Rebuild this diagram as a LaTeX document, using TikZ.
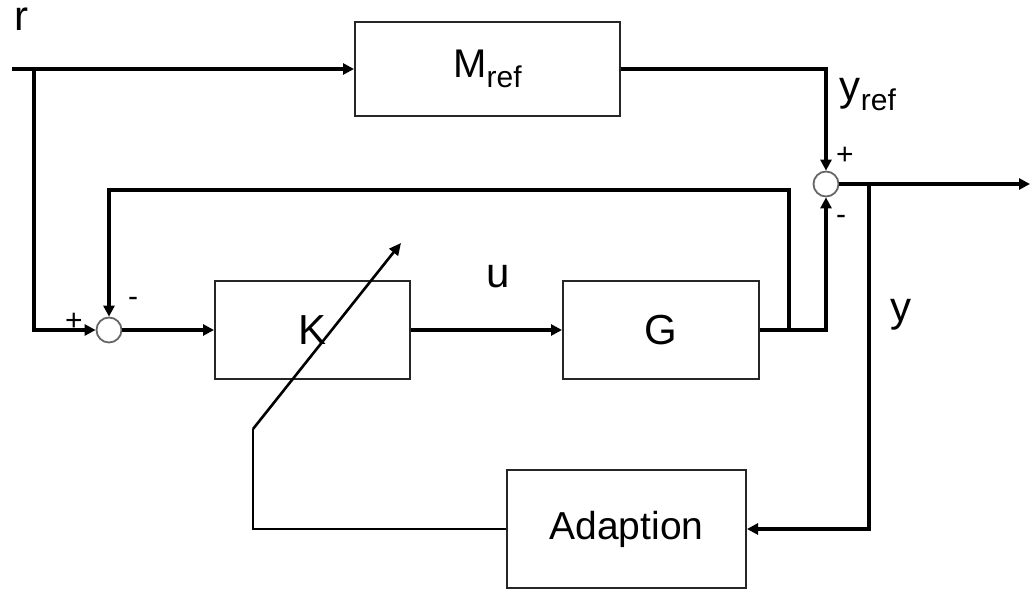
\documentclass[tikz,border=0pt]{standalone}
\usepackage{fontspec}
\setmainfont{Liberation Sans}
\usetikzlibrary{arrows.meta,positioning,calc}
\tikzset{
  block/.style={rectangle, draw=black!85, line width=1pt, fill=white,
                inner sep=0pt, font=\fontsize{21}{25}\selectfont},
  sumpt/.style={circle, draw=black!60, line width=0.9pt, fill=white,
                minimum size=12.5pt, inner sep=0pt},
  lbl/.style={font=\fontsize{21}{25}\selectfont, inner sep=0pt},
  sgn/.style={font=\fontsize{15}{17}\selectfont, inner sep=0pt},
  wire/.style={line width=2pt},
  sig/.style={wire, -{Triangle[length=5.5pt,width=5.5pt]}},
  tune/.style={line width=0.8pt},
  tunear/.style={line width=1.3pt, -{Triangle[length=6pt,width=5.5pt]}},
}
\newcommand{\rsub}{\raisebox{-0.45ex}{\fontsize{15}{15}\selectfont ref}}

\begin{document}
\begin{tikzpicture}[x=0.5pt,y=0.5pt]
\useasboundingbox (0,0) rectangle (1030,-589);

% ---------- blocks ----------
\node[block, minimum width=132.5pt, minimum height=47pt,
      font=\fontsize{20}{24}\selectfont] (mref) at (487.5,-69) {M\rsub};
\node[block, minimum width=97.5pt, minimum height=49pt] (k) at (312.5,-330) {K};
\node[block, minimum width=98pt, minimum height=49pt] (g) at (661,-330) {G};
\node[block, minimum width=119.5pt, minimum height=59pt,
      font=\fontsize{19.5}{23}\selectfont] (adapt) at (626.5,-529) {Adaption};

% ---------- summing points ----------
\node[sumpt] (s1) at (109,-330) {};
\node[sumpt] (s2) at (826,-184) {};

% ---------- branch points ----------
\coordinate (rin) at (12,-69);
\coordinate (rbr) at (34,-69);
\coordinate (gbr) at (789,-330);
\coordinate (fbk) at (789,-190);
\coordinate (ybr) at (869,-184);
\coordinate (yout) at (1030,-184);
\coordinate (tbot) at (253,-429);
\coordinate (ttip) at (401,-243);

% ---------- signal paths ----------
\draw[sig] (rin) -- (mref.west);
\draw[sig] (rbr) |- (s1.west);
\draw[sig] (mref.east) -| (s2.north);
\draw[sig] (s2.east) -- (yout);
\draw[sig] (s1.east) -- (k.west);
\draw[sig] (k.east) -- (g.west);
\draw[sig] (g.east) -| (s2.south);
\draw[sig,line width=1.6pt] (gbr) -- (fbk) -| (s1.north);
\draw[sig,line width=1.6pt] (ybr) |- (adapt.east);

% ---------- adaption ----------
\draw[tune] (adapt.west) -| (tbot);
\draw[tunear] (tbot) -- (ttip);

% ---------- labels ----------
\node[lbl] (rlab) at (21,-19) {r};
\node[lbl] (yreflab) at (868,-95) {y\rsub};
\node[lbl] (ulab) at (498,-277) {u};
\node[lbl] (ylab) at (901,-315) {y};
\node[sgn] (p2) at (845,-156) {+};
\node[sgn] (m2) at (841,-220) {-};
\node[sgn] (p1) at (74,-322) {+};
\node[sgn] (m1) at (133,-302) {-};
\end{tikzpicture}
\end{document}
